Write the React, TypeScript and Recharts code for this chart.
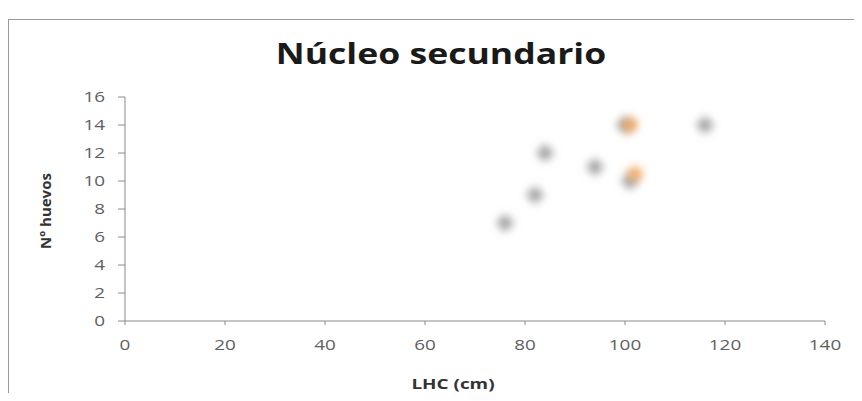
import { ScatterChart, Scatter, XAxis, YAxis } from "recharts";

// LHC (cm) vs number of eggs
const lhcGrey = [76, 82, 84, 94, 100, 101, 116];
const eggsGrey = [7, 9, 12, 11, 14, 10, 14];
const lhcOrange = [101, 102];
const eggsOrange = [14, 10.5];

const xTicks = [0, 20, 40, 60, 80, 100, 120, 140];
const yTicks = [0, 2, 4, 6, 8, 10, 12, 14, 16];

const greyData = lhcGrey.map((x, i) => ({ x, y: eggsGrey[i] }));
const orangeData = lhcOrange.map((x, i) => ({ x, y: eggsOrange[i] }));

const FONT = "'Open Sans', 'DejaVu Sans', sans-serif";
const STRETCH = 1.35;

function Diamond(props: any) {
  const { cx, cy, fill } = props;
  const r = 9;
  return (
    <path
      d={`M${cx},${cy - r} L${cx + r},${cy} L${cx},${cy + r} L${cx - r},${cy} Z`}
      fill={fill}
      filter="url(#soft)"
    />
  );
}

// tick text drawn a bit wider than the font's natural width
function WideTick(props: any) {
  const { x, y, payload, textAnchor, dy } = props;
  return (
    <g transform={`translate(${x},${y}) scale(${STRETCH},1)`}>
      <text x={0} y={0} dy={dy} textAnchor={textAnchor} fill="#606060" fontSize={14} fontFamily={FONT}>
        {payload.value}
      </text>
    </g>
  );
}

export default function App() {
  return (
    <div style={{ position: "relative", width: 862, height: 401, margin: -8, overflow: "hidden", background: "#fff", fontFamily: FONT }}>
      <div style={{ position: "absolute", left: 8, top: 19, width: 900, height: 379, border: "1px solid #9a9a9a" }} />
      <div style={{ position: "absolute", left: 441, top: 53, transform: "translate(-50%, -50%) scaleX(1.27)", fontSize: 28, fontWeight: 700, color: "#1a1a1a", whiteSpace: "nowrap" }}>
        Núcleo secundario
      </div>
      <div style={{ position: "absolute", left: 45, top: 211, transform: "translate(-50%, -50%) rotate(-90deg)", fontSize: 15, fontWeight: 700, color: "#333", whiteSpace: "nowrap" }}>
        Nº huevos
      </div>
      <div style={{ position: "absolute", left: 453, top: 383, transform: "translate(-50%, -50%) scaleX(1.35)", fontSize: 14, fontWeight: 700, color: "#333", whiteSpace: "nowrap" }}>
        LHC (cm)
      </div>
      <ScatterChart width={862} height={401} margin={{ top: 97, right: 37, bottom: 50, left: 65 }} style={{ position: "absolute", left: 0, top: 0 }}>
        <defs>
          <filter id="soft" x="-80%" y="-80%" width="260%" height="260%">
            <feGaussianBlur stdDeviation="4" />
          </filter>
        </defs>
        <XAxis
          type="number"
          dataKey="x"
          domain={[0, 140]}
          ticks={xTicks}
          height={30}
          tickSize={4}
          tickMargin={15}
          stroke="#8a8a8a"
          tick={<WideTick dy="0.71em" />}
        />
        <YAxis
          type="number"
          dataKey="y"
          domain={[0, 16]}
          ticks={yTicks}
          width={60}
          tickSize={7}
          tickMargin={13}
          stroke="#8a8a8a"
          tick={<WideTick dy="0.355em" />}
        />
        <Scatter data={greyData} fill="#9e9e9e" shape={<Diamond />} isAnimationActive={false} />
        <Scatter data={orangeData} fill="#f2a860" shape={<Diamond />} isAnimationActive={false} />
      </ScatterChart>
    </div>
  );
}
